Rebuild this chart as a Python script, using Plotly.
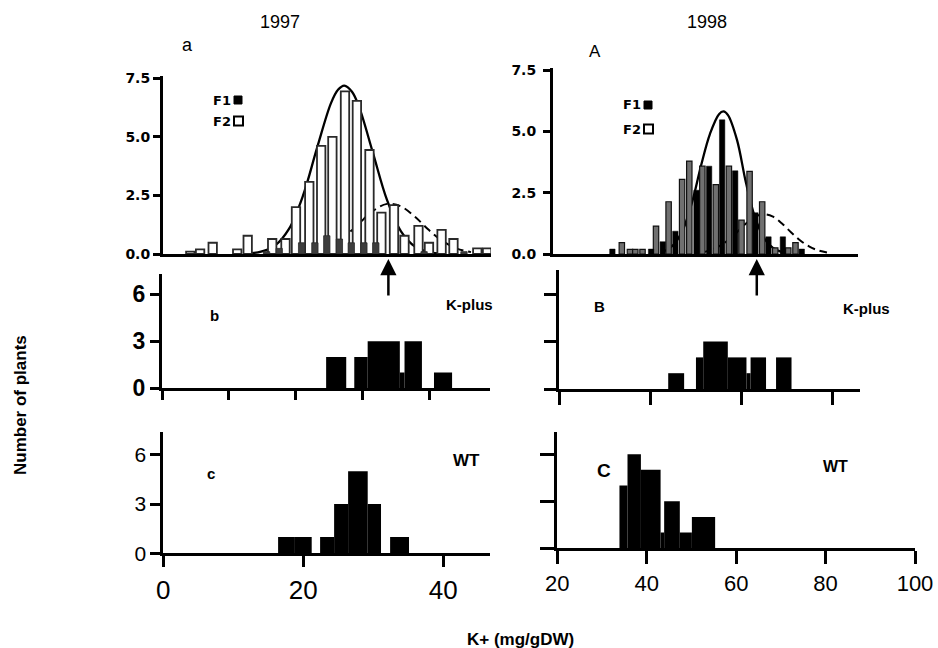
import plotly.graph_objects as go

W, H = 938, 648


def px(x):
    return x / W


def py(y):
    return 1 - y / H


# ---------------- data ----------------
# panel a (1997): F2 (open bars), F1 (filled bars), fitted curves
a_f2_x = [3.9, 5.3, 7.1, 10.6, 12.1, 15.6, 17.5, 19.0, 20.9, 22.6, 24.2, 26.0, 27.7, 29.5,
          31.2, 33.0, 34.5, 36.5, 38.0, 39.8, 41.5, 44.9, 46.3]
a_f2_n = [0.1, 0.2, 0.48, 0.2, 0.78, 0.64, 0.64, 2.0, 3.08, 4.62, 5.0, 6.94, 6.54, 4.44,
          1.77, 2.09, 0.78, 1.2, 0.48, 1.03, 0.64, 0.24, 0.24]
a_f1_x = [14.8, 16.6, 19.8, 21.7, 23.4, 25.2, 26.9, 28.7, 30.4, 37.3, 43.0]
a_f1_n = [0.1, 0.24, 0.48, 0.48, 0.78, 0.64, 0.48, 0.48, 0.48, 0.1, 0.1]
a_solid_x = [12, 14, 16, 18, 20, 22, 24, 25, 25.9, 27, 28, 30, 32, 34, 36, 38, 40]
a_solid_y = [0.02, 0.10, 0.36, 1.07, 2.49, 4.52, 6.44, 7.01, 7.19, 6.93, 6.29, 4.31, 2.31,
             0.97, 0.32, 0.08, 0.02]
a_dash_x = [22, 24, 26, 28, 30, 32, 34, 36, 38, 40, 42, 44]
a_dash_y = [0.14, 0.36, 0.76, 1.30, 1.84, 2.14, 2.03, 1.59, 1.02, 0.54, 0.23, 0.08]

# panel A (1998)
A_f2_x = [34.4, 36.2, 37.4, 39.0, 42.0, 44.8, 47.8, 49.4, 52.3, 55.3, 58.2, 61.0, 62.8,
          65.6, 68.5, 71.4, 73.0]
A_f2_n = [0.46, 0.19, 0.19, 0.19, 1.14, 2.13, 3.04, 3.79, 3.58, 2.83, 3.58, 1.38, 3.37,
          2.13, 0.25, 0.25, 0.46]
A_f1_x = [32.3, 40.9, 43.5, 46.3, 51.0, 53.8, 56.7, 59.6, 64.1, 67.0, 70.2, 74.4]
A_f1_n = [0.2, 0.2, 0.5, 0.93, 2.6, 3.58, 5.47, 3.39, 1.68, 0.7, 0.7, 0.2]
A_solid_x = [44, 46, 48, 50, 52, 54, 56, 57, 58, 60, 62, 64, 66, 68, 70]
A_solid_y = [0.12, 0.4, 1.0, 2.1, 3.6, 4.9, 5.7, 5.81, 5.66, 4.65, 2.9, 1.5, 0.65, 0.25, 0.08]
A_dash_x = [52, 54, 56, 58, 60, 62, 64, 66, 68, 70, 72, 74, 76, 78, 80]
A_dash_y = [0.06, 0.15, 0.31, 0.56, 0.89, 1.24, 1.52, 1.62, 1.52, 1.24, 0.89, 0.56, 0.31,
            0.15, 0.06]

# arrows (K-plus mean marked on the F2 panels)
arrow_x_1997 = 32.2
arrow_x_1998 = 64.4

# panel b (1997 K-plus): bin edges and counts
b_left = [24.5, 28.7, 30.7, 35.5, 36.2, 40.6]
b_right = [27.5, 30.7, 35.5, 36.2, 38.8, 43.3]
b_n = [2, 2, 3, 1, 3, 1]

# panel B (1998 K-plus)
B_left = [44.0, 50.1, 51.7, 57.1, 61.2, 62.1, 67.7]
B_right = [47.5, 51.7, 57.1, 61.2, 62.1, 65.5, 71.1]
B_n = [1, 2, 3, 2, 1, 2, 2]

# panel c (1997 WT)
c_left = [16.4, 18.8, 22.4, 24.4, 26.4, 29.2, 32.4]
c_right = [18.8, 21.2, 24.4, 26.4, 29.2, 31.1, 35.1]
c_n = [1, 1, 1, 3, 5, 3, 1]

# panel C (1998 WT)
C_left = [33.9, 35.7, 38.7, 43.1, 43.9, 47.4, 50.1]
C_right = [35.7, 38.7, 43.1, 43.9, 47.4, 50.1, 55.3]
C_n = [4, 6, 5, 1, 3, 1, 2]

top_ticks = [0, 2.5, 5, 7.5]
top_ticktext = ["0.0", "2.5", "5.0", "7.5"]
count_ticks = [0, 3, 6]
x_ticks_1997_mid = [0, 10, 20, 30, 40]
x_ticks_1997 = [0, 20, 40]
x_ticks_1998 = [20, 40, 60, 80, 100]
x_ticks_1998_mid = [20, 40, 60, 80]

# ---------------- figure ----------------
fig = go.Figure()


def centers(left, right):
    return [(l + r) / 2 for l, r in zip(left, right)]


def widths(left, right):
    return [r - l for l, r in zip(left, right)]


# curves (base axes, drawn beneath the bars)
fig.add_trace(go.Scatter(x=a_solid_x, y=a_solid_y, mode="lines", line=dict(color="black", width=2.3, shape="spline"),
                         xaxis="x", yaxis="y", hoverinfo="skip"))
fig.add_trace(go.Scatter(x=a_dash_x, y=a_dash_y, mode="lines",
                         line=dict(color="black", width=2, shape="spline", dash="8px,5px"),
                         xaxis="x", yaxis="y", hoverinfo="skip"))
fig.add_trace(go.Scatter(x=A_solid_x, y=A_solid_y, mode="lines", line=dict(color="black", width=2.3, shape="spline"),
                         xaxis="x2", yaxis="y2", hoverinfo="skip"))
fig.add_trace(go.Scatter(x=A_dash_x, y=A_dash_y, mode="lines",
                         line=dict(color="black", width=2, shape="spline", dash="8px,5px"),
                         xaxis="x2", yaxis="y2", hoverinfo="skip"))

# bars of the top panels on overlay y axes so they sit above the curves
fig.add_trace(go.Bar(x=a_f2_x, y=a_f2_n, width=1.2, marker=dict(color="white", line=dict(color="#2a2a2a", width=1.8)),
                     xaxis="x", yaxis="y7"))
fig.add_trace(go.Bar(x=a_f1_x, y=a_f1_n, width=0.9, marker=dict(color="#3d3d3d", line=dict(color="#2a2a2a", width=0.8)),
                     xaxis="x", yaxis="y7"))
fig.add_trace(go.Bar(x=A_f2_x, y=A_f2_n, width=1.2, marker=dict(color="#707070", line=dict(color="#111111", width=1.2)),
                     xaxis="x2", yaxis="y8"))
fig.add_trace(go.Bar(x=A_f1_x, y=A_f1_n, width=1.2, marker=dict(color="black", line=dict(color="black", width=0.5)),
                     xaxis="x2", yaxis="y8"))

# histograms
for left, right, n, xa, ya in [(b_left, b_right, b_n, "x3", "y3"),
                               (B_left, B_right, B_n, "x4", "y4"),
                               (c_left, c_right, c_n, "x5", "y5"),
                               (C_left, C_right, C_n, "x6", "y6")]:
    fig.add_trace(go.Bar(x=centers(left, right), y=n, width=widths(left, right),
                         marker=dict(color="black", line=dict(width=0)), xaxis=xa, yaxis=ya))


def axis(**kw):
    d = dict(showline=True, linewidth=3, linecolor="black", showgrid=False, zeroline=False,
             ticks="outside", tickwidth=3, tickcolor="black", fixedrange=True, automargin=False)
    d.update(kw)
    return d


fig.update_layout(
    template="none",
    width=W, height=H, margin=dict(l=0, r=0, t=0, b=0, pad=0), autosize=False,
    paper_bgcolor="white", plot_bgcolor="white", showlegend=False,
    barmode="overlay",
    # top-left (a)
    xaxis=axis(domain=[px(163), px(491)], range=[0, 46.86], anchor="y", ticks="", showticklabels=False),
    yaxis=axis(domain=[py(254), py(76)], range=[0, 7.6], anchor="x", tickvals=top_ticks, ticktext=top_ticktext,
               ticklen=7, tickfont=dict(family="DejaVu Sans", size=14, color="black", weight="bold")),
    yaxis7=dict(overlaying="y", anchor="x", range=[0, 7.6], visible=False, fixedrange=True, automargin=False),
    # top-right (A)
    xaxis2=axis(domain=[px(553), px(858)], range=[19.1, 86.9], anchor="y2", ticks="", showticklabels=False),
    yaxis2=axis(domain=[py(254), py(68.3)], range=[0, 7.57], anchor="x2", tickvals=top_ticks, ticktext=top_ticktext,
                ticklen=7, ticklabelstandoff=4,
                tickfont=dict(family="DejaVu Sans", size=14, color="black", weight="bold")),
    yaxis8=dict(overlaying="y2", anchor="x2", range=[0, 7.57], visible=False, fixedrange=True, automargin=False),
    # middle-left (b)
    xaxis3=axis(domain=[px(162), px(490)], range=[0, 48.96], anchor="y3", tickvals=x_ticks_1997_mid,
                ticklen=9, showticklabels=False),
    yaxis3=axis(domain=[py(388.3), py(274)], range=[0, 7.28], anchor="x3", tickvals=count_ticks, ticklen=9,
                tickfont=dict(family="Liberation Sans", size=23, color="black", weight="bold")),
    # middle-right (B)
    xaxis4=axis(domain=[px(559), px(860)], range=[20, 86.15], anchor="y4", tickvals=x_ticks_1998_mid,
                ticklen=13, showticklabels=False),
    yaxis4=axis(domain=[py(389), py(270)], range=[0, 7.53], anchor="x4", tickvals=count_ticks, ticklen=12,
                showticklabels=False),
    # bottom-left (c)
    xaxis5=axis(domain=[px(163.3), px(490)], range=[0, 46.67], anchor="y5", tickvals=x_ticks_1997, ticklen=11,
                tickfont=dict(family="Liberation Sans", size=26, color="black")),
    yaxis5=axis(domain=[py(553.3), py(431.7)], range=[0, 7.41], anchor="x5", tickvals=count_ticks, ticklen=10,
                tickfont=dict(family="Liberation Sans", size=21, color="black")),
    # bottom-right (C)
    xaxis6=axis(domain=[px(557.3), px(915)], range=[20, 100], anchor="y6", tickvals=x_ticks_1998, ticklen=13,
                tickfont=dict(family="Liberation Sans", size=22, color="black")),
    yaxis6=axis(domain=[py(548.3), py(431.7)], range=[0, 7.43], anchor="x6", tickvals=count_ticks, ticklen=14,
                showticklabels=False),
)


def label(text, x, y, font, **kw):
    fig.add_annotation(text=text, x=px(x), y=py(y), xref="paper", yref="paper", showarrow=False,
                       xanchor="center", yanchor="middle", font=font, **kw)


reg = dict(family="Liberation Sans, Arial", size=18, color="black")
label("1997", 280, 22, reg)
label("1998", 707, 22, reg)
label("a", 187, 45, reg)
label("A", 595, 51, dict(family="Liberation Sans, Arial", size=17, color="black"))

# legend keys: text plus square key symbols
bold_px = dict(family="DejaVu Sans", size=13, color="black", weight="bold")
for (tx, ty, dy) in [(222, 100, 21), (632, 105, 24)]:
    label("F1", tx, ty, bold_px)
    label("F2", tx, ty + dy, bold_px)
for (sx, sy, dy) in [(234, 100, 21), (644, 105, 24)]:
    fig.add_shape(type="rect", xref="paper", yref="paper", x0=px(sx), x1=px(sx + 8), y0=py(sy + 4), y1=py(sy - 4),
                  fillcolor="black", line=dict(color="black", width=1))
    fig.add_shape(type="rect", xref="paper", yref="paper", x0=px(sx), x1=px(sx + 9), y0=py(sy + dy + 4.5),
                  y1=py(sy + dy - 4.5), fillcolor="white", line=dict(color="black", width=2))

bold_l = dict(family="Liberation Sans, Arial", size=15, color="black", weight="bold")
label("b", 214, 316, bold_l)
label("B", 599, 306, bold_l)
label("c", 211, 473, bold_l)
label("C", 604, 470, dict(family="Liberation Sans, Arial", size=19, color="black", weight="bold"))
label("K-plus", 469, 304, dict(family="Liberation Sans, Arial", size=15, color="black", weight="bold"))
label("K-plus", 866, 308, dict(family="Liberation Sans, Arial", size=15, color="black", weight="bold"))
label("WT", 466, 460, dict(family="Liberation Sans, Arial", size=17, color="black", weight="bold"))
label("WT", 835, 466, dict(family="Liberation Sans, Arial", size=16, color="black", weight="bold"))

title_font = dict(family="Liberation Sans, Arial", size=17, color="black", weight="bold")
label("Number of plants", 20, 405, title_font, textangle=-90)
label("K+ (mg/gDW)", 520, 639, title_font)

# arrows
for xv, xr in [(arrow_x_1997, "x"), (arrow_x_1998, "x2")]:
    fig.add_annotation(x=xv, y=py(259), xref=xr, yref="paper", ax=0, ay=38, axref="pixel", ayref="pixel",
                       text="", showarrow=True, arrowhead=2, arrowsize=1.3, arrowwidth=2.5, arrowcolor="black")

fig.write_html("out.html", config={"displayModeBar": False},
               post_script="document.body.style.margin='0';document.body.style.overflow='hidden';")
